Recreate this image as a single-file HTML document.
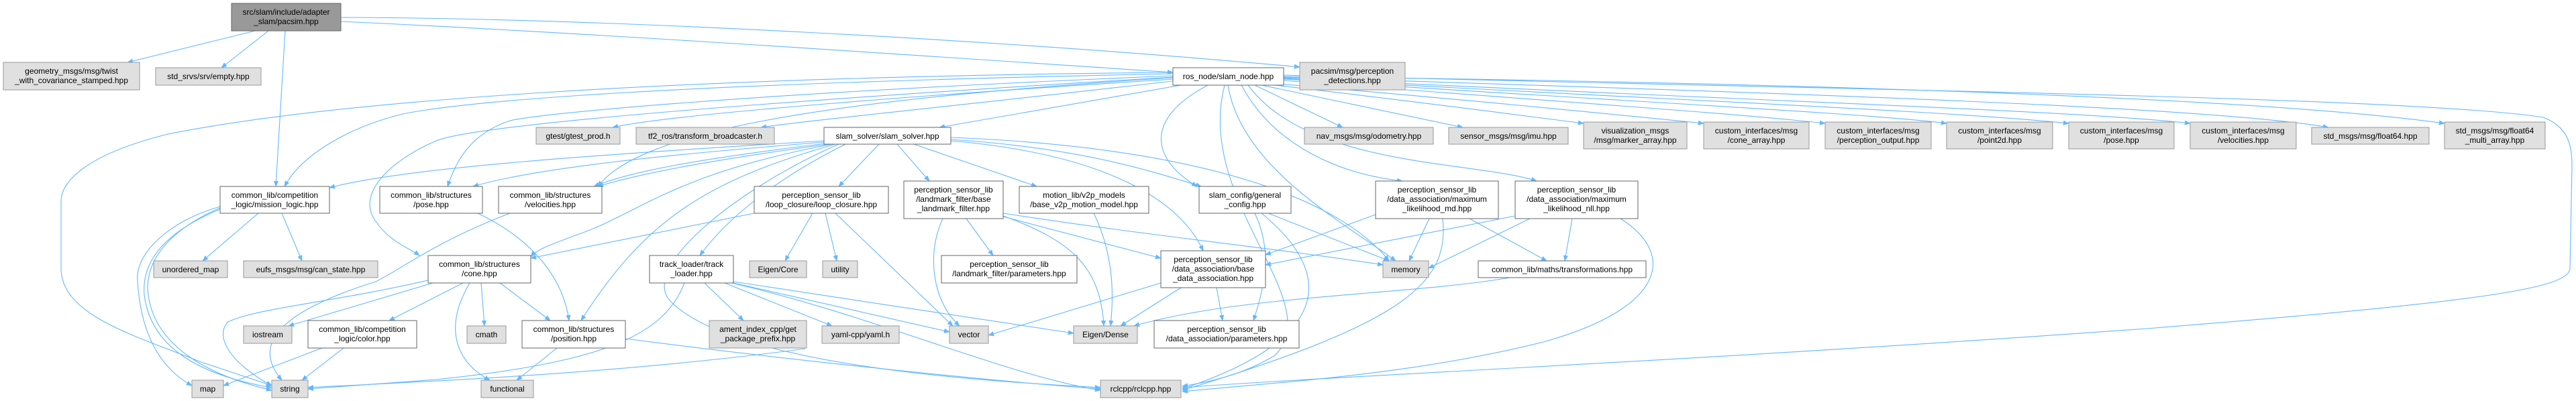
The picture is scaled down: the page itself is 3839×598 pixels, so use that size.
<!DOCTYPE html>
<html><head><meta charset="utf-8"><style>
html,body{margin:0;padding:0;background:#fff;}
svg{display:block;}
text{font-family:"Liberation Sans",Arial,sans-serif;font-size:12px;fill:#000;}
.e{fill:none;stroke:#63b8ff;stroke-width:1.1;marker-end:url(#a);}
.g{fill:#e0e0e0;stroke:#999;}
.w{fill:#fff;stroke:#666;}
.r{fill:#999;stroke:#666;}
</style></head><body>
<svg width="3839" height="598" viewBox="0 0 3839 598" xmlns="http://www.w3.org/2000/svg">
<defs><marker id="a" viewBox="0 0 10 10" refX="9" refY="5" markerWidth="9" markerHeight="9" markerUnits="userSpaceOnUse" orient="auto"><path d="M0,1 L10,5 L0,9 z" fill="#63b8ff"/></marker></defs>
<g>
<path class="e" d="M380,46 L190,93"/>
<path class="e" d="M400,46 L330,101"/>
<path class="e" d="M425,46 L411,278"/>
<path class="e" d="M508,26 C900,27 1500,60 1937,100"/>
<path class="e" d="M508,32 C900,50 1400,85 1748,108"/>
<path class="e" d="M1750,118 C1400,140 1000,170 913,190"/>
<path class="e" d="M1755,120 C1500,150 1200,180 1134,190"/>
<path class="e" d="M1760,127 L1400,190"/>
<path class="e" d="M1748,110 C1000,125 700,150 600,170 C520,190 450,230 424,278"/>
<path class="e" d="M1748,113 C1100,140 800,170 760,180 C700,200 680,240 667,278"/>
<path class="e" d="M1748,108 C1000,115 500,150 250,200 C130,230 91,270 91,300 L91,400 C91,470 200,500 300,540 L405,575"/>
<path class="e" d="M1748,115 C1000,160 700,190 650,210 C580,240 530,290 560,330 C580,360 610,370 625,381"/>
<path class="e" d="M1748,116 C1200,150 950,200 891,278"/>
<path class="e" d="M1800,127 C1700,180 1720,240 1784,278"/>
<path class="e" d="M1830,127 C1850,250 2000,330 2080,389"/>
<path class="e" d="M1850,127 C1900,220 2000,260 2090,270"/>
<path class="e" d="M1860,127 C1950,250 2200,240 2290,270"/>
<path class="e" d="M1825,127 C1780,300 1980,450 1900,530 C1850,560 1800,570 1762,576"/>
<path class="e" d="M1870,127 L2001,190"/>
<path class="e" d="M1880,127 L2180,190"/>
<path class="e" d="M1900,127 C2100,150 2250,170 2360,184"/>
<path class="e" d="M1905,125 C2200,150 2400,170 2539,184"/>
<path class="e" d="M1913,120 C2300,150 2600,170 2720,184"/>
<path class="e" d="M1913,118 C2400,150 2800,170 2901,184"/>
<path class="e" d="M1913,117 C2500,150 2900,165 3083,184"/>
<path class="e" d="M1913,116 C2600,150 3100,165 3264,184"/>
<path class="e" d="M1913,115 C2700,140 3300,160 3470,190"/>
<path class="e" d="M1913,114 C2800,125 3400,150 3643,184"/>
<path class="e" d="M1913,112 C2800,135 3600,145 3790,175 C3830,190 3833,220 3833,250 L3830,400 C3830,430 3700,450 3200,490 C2500,540 2000,560 1762,578"/>
<path class="e" d="M2250,414 C2100,440 1850,440 1690,486"/>
<path class="e" d="M1228,210 C900,230 600,250 491,280"/>
<path class="e" d="M1228,212 C1000,230 800,250 705,278"/>
<path class="e" d="M1235,215 C1050,240 950,260 891,278"/>
<path class="e" d="M1230,214 C1050,236 940,255 885,278"/>
<path class="e" d="M1240,215 C1000,260 950,320 860,350 C820,365 800,372 791,383"/>
<path class="e" d="M1245,215 C1050,270 960,330 866,478"/>
<path class="e" d="M1250,215 C1100,280 950,400 1000,450 C1100,550 1500,570 1640,578"/>
<path class="e" d="M1260,215 C1150,270 1080,330 1043,381"/>
<path class="e" d="M1310,215 L1250,278"/>
<path class="e" d="M1337,215 L1385,270"/>
<path class="e" d="M1362,215 L1545,278"/>
<path class="e" d="M1417,208 C1600,220 1700,250 1790,278"/>
<path class="e" d="M1417,210 C1650,230 1760,300 1793,374"/>
<path class="e" d="M1417,205 C1800,220 2000,300 2070,389"/>
<path class="e" d="M1405,326 C1380,380 1390,450 1430,486"/>
<path class="e" d="M1440,326 L1480,381"/>
<path class="e" d="M1495,322 C1600,360 1640,400 1645,486"/>
<path class="e" d="M1495,323 L1730,385"/>
<path class="e" d="M1495,318 C1700,350 1900,370 2061,395"/>
<path class="e" d="M1630,318 C1660,380 1660,440 1655,486"/>
<path class="e" d="M1890,318 L2070,389"/>
<path class="e" d="M1870,318 C1900,380 1880,440 1868,478"/>
<path class="e" d="M1880,318 C1980,400 2000,500 1762,580"/>
<path class="e" d="M1730,422 L1473,500"/>
<path class="e" d="M1760,429 L1670,486"/>
<path class="e" d="M1813,429 L1822,478"/>
<path class="e" d="M2130,326 L2100,389"/>
<path class="e" d="M2190,326 L2305,389"/>
<path class="e" d="M2150,326 C2160,420 2100,480 1762,582"/>
<path class="e" d="M2050,320 L1886,380"/>
<path class="e" d="M2280,326 L2129,400"/>
<path class="e" d="M2343,326 L2332,389"/>
<path class="e" d="M2258,322 L1886,395"/>
<path class="e" d="M2415,326 C2500,380 2480,460 2300,510 C2100,560 1900,570 1762,584"/>
<path class="e" d="M1211,318 L1170,389"/>
<path class="e" d="M1230,318 L1247,389"/>
<path class="e" d="M1245,318 L1420,486"/>
<path class="e" d="M1124,318 L791,385"/>
<path class="e" d="M1020,422 C990,500 900,540 650,566 L459,580"/>
<path class="e" d="M1050,422 L1108,478"/>
<path class="e" d="M1080,422 L1240,486"/>
<path class="e" d="M1093,422 L1415,495"/>
<path class="e" d="M1093,420 L1600,497"/>
<path class="e" d="M1090,422 C1300,470 1500,560 1640,582"/>
<path class="e" d="M385,318 L302,389"/>
<path class="e" d="M420,318 L450,389"/>
<path class="e" d="M328,308 C250,330 200,380 205,420 C210,500 240,550 286,575"/>
<path class="e" d="M328,312 C260,340 210,380 215,440 C225,520 300,560 405,578"/>
<path class="e" d="M328,310 C270,335 220,375 220,430 C225,515 310,560 405,582"/>
<path class="e" d="M645,422 L430,486"/>
<path class="e" d="M690,422 L580,478"/>
<path class="e" d="M717,422 L722,486"/>
<path class="e" d="M745,422 L820,478"/>
<path class="e" d="M700,422 C660,490 680,540 730,567"/>
<path class="e" d="M638,418 C500,450 380,460 340,480 C320,500 340,540 405,575"/>
<path class="e" d="M480,519 L333,575"/>
<path class="e" d="M512,519 L450,567"/>
<path class="e" d="M712,318 C800,360 840,420 848,478"/>
<path class="e" d="M760,318 C650,360 600,400 560,420 C400,470 380,520 420,567"/>
<path class="e" d="M830,519 L770,567"/>
<path class="e" d="M932,505 C1200,540 1500,570 1640,580"/>
<path class="e" d="M1200,520 C900,560 600,570 459,578"/>
</g>
<g>
<rect class="r" x="345" y="5" width="163" height="41"/>
<text x="426.5" y="22" text-anchor="middle">src/slam/include/adapter</text>
<text x="426.5" y="36" text-anchor="middle">_slam/pacsim.hpp</text>

<rect class="g" x="5" y="93" width="203" height="41"/>
<text x="106.5" y="110" text-anchor="middle">geometry_msgs/msg/twist</text>
<text x="106.5" y="124" text-anchor="middle">_with_covariance_stamped.hpp</text>

<rect class="g" x="232" y="101" width="157" height="26"/>
<text x="310.5" y="118" text-anchor="middle">std_srvs/srv/empty.hpp</text>

<rect class="w" x="328" y="278" width="163" height="40"/>
<text x="409.5" y="295" text-anchor="middle">common_lib/competition</text>
<text x="409.5" y="309" text-anchor="middle">_logic/mission_logic.hpp</text>

<rect class="w" x="566" y="278" width="153" height="40"/>
<text x="642.5" y="295" text-anchor="middle">common_lib/structures</text>
<text x="642.5" y="309" text-anchor="middle">/pose.hpp</text>

<rect class="w" x="743" y="278" width="154" height="40"/>
<text x="820" y="295" text-anchor="middle">common_lib/structures</text>
<text x="820" y="309" text-anchor="middle">/velocities.hpp</text>

<rect class="w" x="638" y="381" width="153" height="41"/>
<text x="714.5" y="398" text-anchor="middle">common_lib/structures</text>
<text x="714.5" y="412" text-anchor="middle">/cone.hpp</text>

<rect class="g" x="229" y="389" width="110" height="25"/>
<text x="284" y="406" text-anchor="middle">unordered_map</text>

<rect class="g" x="363" y="389" width="200" height="25"/>
<text x="463" y="406" text-anchor="middle">eufs_msgs/msg/can_state.hpp</text>

<rect class="g" x="363" y="486" width="72" height="26"/>
<text x="399" y="503" text-anchor="middle">iostream</text>

<rect class="w" x="459" y="478" width="162" height="41"/>
<text x="540" y="495" text-anchor="middle">common_lib/competition</text>
<text x="540" y="509" text-anchor="middle">_logic/color.hpp</text>

<rect class="g" x="696" y="486" width="58" height="26"/>
<text x="725" y="503" text-anchor="middle">cmath</text>

<rect class="w" x="778" y="478" width="154" height="41"/>
<text x="855" y="495" text-anchor="middle">common_lib/structures</text>
<text x="855" y="509" text-anchor="middle">/position.hpp</text>

<rect class="g" x="286" y="567" width="47" height="26"/>
<text x="309.5" y="584" text-anchor="middle">map</text>

<rect class="g" x="405" y="567" width="54" height="26"/>
<text x="432" y="584" text-anchor="middle">string</text>

<rect class="g" x="717" y="567" width="78" height="26"/>
<text x="756" y="584" text-anchor="middle">functional</text>

<rect class="g" x="799" y="190" width="125" height="25"/>
<text x="861.5" y="207" text-anchor="middle">gtest/gtest_prod.h</text>

<rect class="g" x="948" y="190" width="206" height="25"/>
<text x="1051" y="207" text-anchor="middle">tf2_ros/transform_broadcaster.h</text>

<rect class="w" x="1228" y="190" width="189" height="25"/>
<text x="1322.5" y="207" text-anchor="middle">slam_solver/slam_solver.hpp</text>

<rect class="w" x="1124" y="278" width="200" height="40"/>
<text x="1224" y="295" text-anchor="middle">perception_sensor_lib</text>
<text x="1224" y="309" text-anchor="middle">/loop_closure/loop_closure.hpp</text>

<rect class="w" x="1347" y="270" width="148" height="56"/>
<text x="1421" y="287" text-anchor="middle">perception_sensor_lib</text>
<text x="1421" y="301" text-anchor="middle">/landmark_filter/base</text>
<text x="1421" y="315" text-anchor="middle">_landmark_filter.hpp</text>

<rect class="w" x="1519" y="278" width="193" height="40"/>
<text x="1615.5" y="295" text-anchor="middle">motion_lib/v2p_models</text>
<text x="1615.5" y="309" text-anchor="middle">/base_v2p_motion_model.hpp</text>

<rect class="w" x="1787" y="278" width="137" height="40"/>
<text x="1855.5" y="295" text-anchor="middle">slam_config/general</text>
<text x="1855.5" y="309" text-anchor="middle">_config.hpp</text>

<rect class="w" x="968" y="381" width="125" height="41"/>
<text x="1030.5" y="398" text-anchor="middle">track_loader/track</text>
<text x="1030.5" y="412" text-anchor="middle">_loader.hpp</text>

<rect class="g" x="1117" y="389" width="85" height="25"/>
<text x="1159.5" y="406" text-anchor="middle">Eigen/Core</text>

<rect class="g" x="1226" y="389" width="52" height="25"/>
<text x="1252" y="406" text-anchor="middle">utility</text>

<rect class="w" x="1403" y="381" width="202" height="41"/>
<text x="1504" y="398" text-anchor="middle">perception_sensor_lib</text>
<text x="1504" y="412" text-anchor="middle">/landmark_filter/parameters.hpp</text>

<rect class="g" x="1057" y="478" width="145" height="41"/>
<text x="1129.5" y="495" text-anchor="middle">ament_index_cpp/get</text>
<text x="1129.5" y="509" text-anchor="middle">_package_prefix.hpp</text>

<rect class="g" x="1225" y="486" width="115" height="26"/>
<text x="1282.5" y="503" text-anchor="middle">yaml-cpp/yaml.h</text>

<rect class="g" x="1415" y="486" width="58" height="26"/>
<text x="1444" y="503" text-anchor="middle">vector</text>

<rect class="g" x="1600" y="486" width="95" height="26"/>
<text x="1647.5" y="503" text-anchor="middle">Eigen/Dense</text>

<rect class="w" x="1720" y="478" width="216" height="41"/>
<text x="1828" y="495" text-anchor="middle">perception_sensor_lib</text>
<text x="1828" y="509" text-anchor="middle">/data_association/parameters.hpp</text>

<rect class="w" x="1730" y="374" width="156" height="55"/>
<text x="1808" y="391" text-anchor="middle">perception_sensor_lib</text>
<text x="1808" y="405" text-anchor="middle">/data_association/base</text>
<text x="1808" y="419" text-anchor="middle">_data_association.hpp</text>

<rect class="g" x="1640" y="567" width="120" height="26"/>
<text x="1700" y="584" text-anchor="middle">rclcpp/rclcpp.hpp</text>

<rect class="w" x="1748" y="101" width="165" height="26"/>
<text x="1830.5" y="118" text-anchor="middle">ros_node/slam_node.hpp</text>

<rect class="g" x="1937" y="93" width="157" height="41"/>
<text x="2015.5" y="110" text-anchor="middle">pacsim/msg/perception</text>
<text x="2015.5" y="124" text-anchor="middle">_detections.hpp</text>

<rect class="g" x="1944" y="190" width="192" height="25"/>
<text x="2040" y="207" text-anchor="middle">nav_msgs/msg/odometry.hpp</text>

<rect class="g" x="2159" y="190" width="178" height="25"/>
<text x="2248" y="207" text-anchor="middle">sensor_msgs/msg/imu.hpp</text>

<rect class="g" x="2360" y="182" width="154" height="40"/>
<text x="2437" y="199" text-anchor="middle">visualization_msgs</text>
<text x="2437" y="213" text-anchor="middle">/msg/marker_array.hpp</text>

<rect class="g" x="2539" y="182" width="157" height="40"/>
<text x="2617.5" y="199" text-anchor="middle">custom_interfaces/msg</text>
<text x="2617.5" y="213" text-anchor="middle">/cone_array.hpp</text>

<rect class="g" x="2720" y="182" width="158" height="40"/>
<text x="2799" y="199" text-anchor="middle">custom_interfaces/msg</text>
<text x="2799" y="213" text-anchor="middle">/perception_output.hpp</text>

<rect class="g" x="2901" y="182" width="158" height="40"/>
<text x="2980" y="199" text-anchor="middle">custom_interfaces/msg</text>
<text x="2980" y="213" text-anchor="middle">/point2d.hpp</text>

<rect class="g" x="3083" y="182" width="157" height="40"/>
<text x="3161.5" y="199" text-anchor="middle">custom_interfaces/msg</text>
<text x="3161.5" y="213" text-anchor="middle">/pose.hpp</text>

<rect class="g" x="3264" y="182" width="158" height="40"/>
<text x="3343" y="199" text-anchor="middle">custom_interfaces/msg</text>
<text x="3343" y="213" text-anchor="middle">/velocities.hpp</text>

<rect class="g" x="3445" y="190" width="175" height="25"/>
<text x="3532.5" y="207" text-anchor="middle">std_msgs/msg/float64.hpp</text>

<rect class="g" x="3643" y="182" width="150" height="40"/>
<text x="3718" y="199" text-anchor="middle">std_msgs/msg/float64</text>
<text x="3718" y="213" text-anchor="middle">_multi_array.hpp</text>

<rect class="w" x="2050" y="270" width="183" height="56"/>
<text x="2141.5" y="287" text-anchor="middle">perception_sensor_lib</text>
<text x="2141.5" y="301" text-anchor="middle">/data_association/maximum</text>
<text x="2141.5" y="315" text-anchor="middle">_likelihood_md.hpp</text>

<rect class="w" x="2258" y="270" width="183" height="56"/>
<text x="2349.5" y="287" text-anchor="middle">perception_sensor_lib</text>
<text x="2349.5" y="301" text-anchor="middle">/data_association/maximum</text>
<text x="2349.5" y="315" text-anchor="middle">_likelihood_nll.hpp</text>

<rect class="g" x="2061" y="389" width="68" height="25"/>
<text x="2095" y="406" text-anchor="middle">memory</text>

<rect class="w" x="2203" y="389" width="250" height="25"/>
<text x="2328" y="406" text-anchor="middle">common_lib/maths/transformations.hpp</text>
</g>
</svg>
</body></html>
